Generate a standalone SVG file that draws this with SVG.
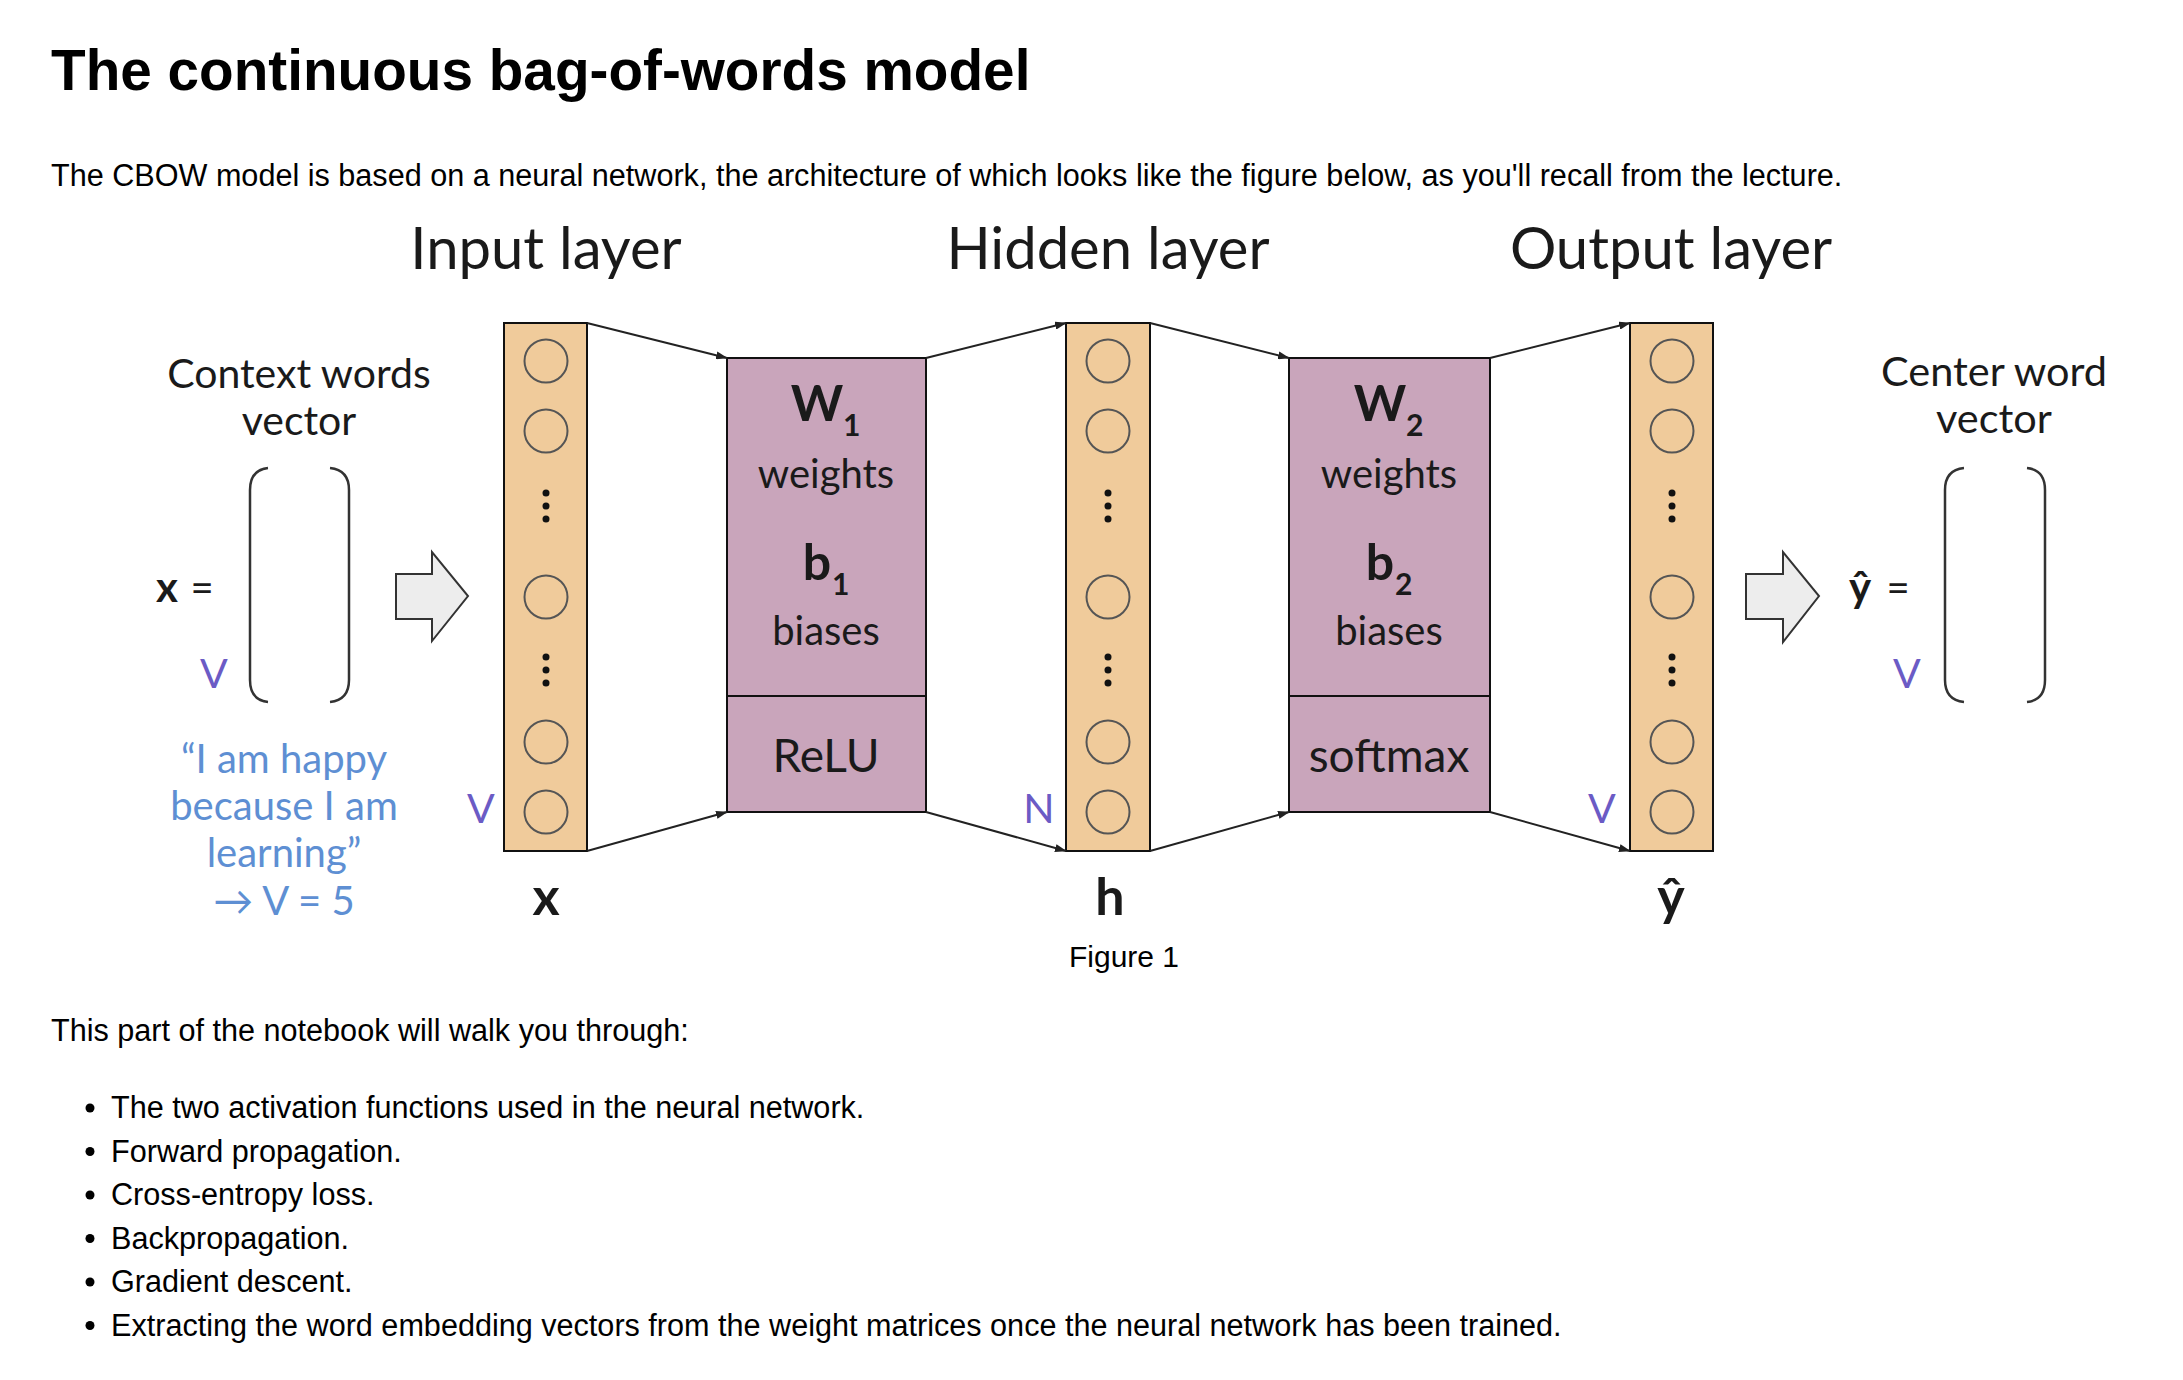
<svg xmlns="http://www.w3.org/2000/svg" width="2183" height="1380" viewBox="0 0 2183 1380">
<defs>
<style>
.arial{font-family:"Liberation Sans",Arial,sans-serif;fill:#000}
.lato{font-family:Lato,"Open Sans",sans-serif;fill:#1a1a1a}
.col{fill:#F0CB9B;stroke:#111;stroke-width:2}
.box{fill:#C9A5BB;stroke:#111;stroke-width:2}
.node{fill:none;stroke:#555;stroke-width:2}
.dot{fill:#111}
.conn{fill:none;stroke:#222;stroke-width:2}
.blk{fill:#EDEDED;stroke:#333;stroke-width:2;stroke-linejoin:miter}
.brk{fill:none;stroke:#333;stroke-width:2.5}
.purple{fill:#6B5BC5}
.blue{fill:#5E8FD3}
</style>
<marker id="ah" markerWidth="12" markerHeight="8" refX="11" refY="4" orient="auto" markerUnits="userSpaceOnUse">
<path d="M0,0 L12,4 L0,8 Z" fill="#222"/>
</marker>
<g id="colnodes">
<circle class="node" cx="0" cy="361" r="21.5"/>
<circle class="node" cx="0" cy="431" r="21.5"/>
<circle class="dot" cx="0" cy="493" r="3.5"/>
<circle class="dot" cx="0" cy="506" r="3.5"/>
<circle class="dot" cx="0" cy="519" r="3.5"/>
<circle class="node" cx="0" cy="597" r="21.5"/>
<circle class="dot" cx="0" cy="657" r="3.5"/>
<circle class="dot" cx="0" cy="670" r="3.5"/>
<circle class="dot" cx="0" cy="683" r="3.5"/>
<circle class="node" cx="0" cy="742" r="21.5"/>
<circle class="node" cx="0" cy="812" r="21.5"/>
</g>
</defs>
<rect width="2183" height="1380" fill="#fff"/>

<g id="page-text">
<text class="arial" x="51" y="90" font-size="56.7" font-weight="bold">The continuous bag-of-words model</text>
<text class="arial" x="51" y="186" font-size="30.6">The CBOW model is based on a neural network, the architecture of which looks like the figure below, as you'll recall from the lecture.</text>
<text class="arial" x="1124" y="967" font-size="30" text-anchor="middle">Figure 1</text>
<text class="arial" x="51" y="1041" font-size="30.6">This part of the notebook will walk you through:</text>
<g id="bullets">
<circle cx="90" cy="1108" r="4.5"/>
<circle cx="90" cy="1151.5" r="4.5"/>
<circle cx="90" cy="1195" r="4.5"/>
<circle cx="90" cy="1238.5" r="4.5"/>
<circle cx="90" cy="1282" r="4.5"/>
<circle cx="90" cy="1325.5" r="4.5"/>
<text class="arial" x="111" y="1118" font-size="30.6">The two activation functions used in the neural network.</text>
<text class="arial" x="111" y="1161.5" font-size="30.6">Forward propagation.</text>
<text class="arial" x="111" y="1205" font-size="30.6">Cross-entropy loss.</text>
<text class="arial" x="111" y="1248.5" font-size="30.6">Backpropagation.</text>
<text class="arial" x="111" y="1292" font-size="30.6">Gradient descent.</text>
<text class="arial" x="111" y="1335.5" font-size="30.6">Extracting the word embedding vectors from the weight matrices once the neural network has been trained.</text>
</g>
</g>

<g id="layer-titles" class="lato" font-size="58">
<text x="546" y="269" text-anchor="middle">Input layer</text>
<text x="1108" y="269" text-anchor="middle">Hidden layer</text>
<text x="1671" y="269" text-anchor="middle">Output layer</text>
</g>

<g id="context-vector">
<text class="lato" x="299" y="388" font-size="41" text-anchor="middle">Context words</text>
<text class="lato" x="299" y="435" font-size="41" text-anchor="middle">vector</text>
<text class="lato" x="167" y="602" font-size="42" font-weight="bold" text-anchor="middle">x</text>
<text class="lato" x="202" y="602" font-size="40" text-anchor="middle">=</text>
<text class="lato purple" x="214" y="688" font-size="41" text-anchor="middle">V</text>
<path class="brk" d="M268,468 Q250,470 250,490 L250,680 Q250,700 268,702"/>
<path class="brk" d="M330,468 Q349,470 349,490 L349,680 Q349,700 330,702"/>
<g class="lato blue" font-size="40" text-anchor="middle">
<text x="284" y="773">“I am happy</text>
<text x="284" y="820">because I am</text>
<text x="284" y="867">learning”</text>
<text x="284" y="915">→ V = 5</text>
</g>
</g>

<g id="arrow-in"><path class="blk" d="M396,574 L432,574 L432,552 L468,596 L432,641 L432,619 L396,619 Z"/></g>

<g id="input-layer">
<rect class="col" x="504" y="323" width="83" height="528"/>
<use href="#colnodes" x="546"/>
<text class="lato purple" x="481" y="823" font-size="41" text-anchor="middle">V</text>
<text class="lato" x="546" y="915" font-size="52" font-weight="bold" text-anchor="middle">x</text>
</g>

<g id="w1-box">
<rect class="box" x="727" y="358" width="199" height="454"/>
<line x1="727" y1="696" x2="926" y2="696" stroke="#111" stroke-width="2"/>
<g class="lato" font-weight="bold">
<text x="817" y="421" font-size="50" text-anchor="middle">W</text>
<text x="843" y="436" font-size="30">1</text>
<text x="817" y="580" font-size="50" text-anchor="middle">b</text>
<text x="832" y="595" font-size="30">1</text>
</g>
<g class="lato" font-size="40" text-anchor="middle">
<text x="826" y="488">weights</text>
<text x="826" y="645">biases</text>
<text x="826" y="772" font-size="46">ReLU</text>
</g>
</g>

<g id="hidden-layer">
<rect class="col" x="1066" y="323" width="84" height="528"/>
<use href="#colnodes" x="1108"/>
<text class="lato purple" x="1039" y="823" font-size="41" text-anchor="middle">N</text>
<text class="lato" x="1110" y="915" font-size="52" font-weight="bold" text-anchor="middle">h</text>
</g>

<g id="w2-box">
<rect class="box" x="1289" y="358" width="201" height="454"/>
<line x1="1289" y1="696" x2="1490" y2="696" stroke="#111" stroke-width="2"/>
<g class="lato" font-weight="bold">
<text x="1380" y="421" font-size="50" text-anchor="middle">W</text>
<text x="1406" y="436" font-size="30">2</text>
<text x="1380" y="580" font-size="50" text-anchor="middle">b</text>
<text x="1395" y="595" font-size="30">2</text>
</g>
<g class="lato" font-size="40" text-anchor="middle">
<text x="1389" y="488">weights</text>
<text x="1389" y="645">biases</text>
<text x="1389" y="772" font-size="46">softmax</text>
</g>
</g>

<g id="output-layer">
<rect class="col" x="1630" y="323" width="83" height="528"/>
<use href="#colnodes" x="1672"/>
<text class="lato purple" x="1602" y="823" font-size="41" text-anchor="middle">V</text>
<text class="lato" x="1671" y="915" font-size="52" font-weight="bold" text-anchor="middle">ŷ</text>
</g>

<g id="arrow-out"><path class="blk" d="M1746,574 L1783,574 L1783,552 L1819,596 L1783,642 L1783,619 L1746,619 Z"/></g>

<g id="center-vector">
<text class="lato" x="1994" y="386" font-size="41.5" text-anchor="middle">Center word</text>
<text class="lato" x="1994" y="433" font-size="41.5" text-anchor="middle">vector</text>
<text class="lato" x="1860" y="602" font-size="42" font-weight="bold" text-anchor="middle">ŷ</text>
<text class="lato" x="1898" y="602" font-size="40" text-anchor="middle">=</text>
<text class="lato purple" x="1907" y="688" font-size="41" text-anchor="middle">V</text>
<path class="brk" d="M1964,468 Q1945,470 1945,490 L1945,680 Q1945,700 1964,702"/>
<path class="brk" d="M2027,468 Q2045,470 2045,490 L2045,680 Q2045,700 2027,702"/>
</g>

<g id="connectors">
<line class="conn" x1="587" y1="323" x2="727" y2="358" marker-end="url(#ah)"/>
<line class="conn" x1="587" y1="851" x2="727" y2="812" marker-end="url(#ah)"/>
<line class="conn" x1="926" y1="358" x2="1066" y2="323" marker-end="url(#ah)"/>
<line class="conn" x1="926" y1="812" x2="1066" y2="851" marker-end="url(#ah)"/>
<line class="conn" x1="1150" y1="323" x2="1289" y2="358" marker-end="url(#ah)"/>
<line class="conn" x1="1150" y1="851" x2="1289" y2="812" marker-end="url(#ah)"/>
<line class="conn" x1="1490" y1="358" x2="1630" y2="323" marker-end="url(#ah)"/>
<line class="conn" x1="1490" y1="812" x2="1630" y2="851" marker-end="url(#ah)"/>
</g>
</svg>
